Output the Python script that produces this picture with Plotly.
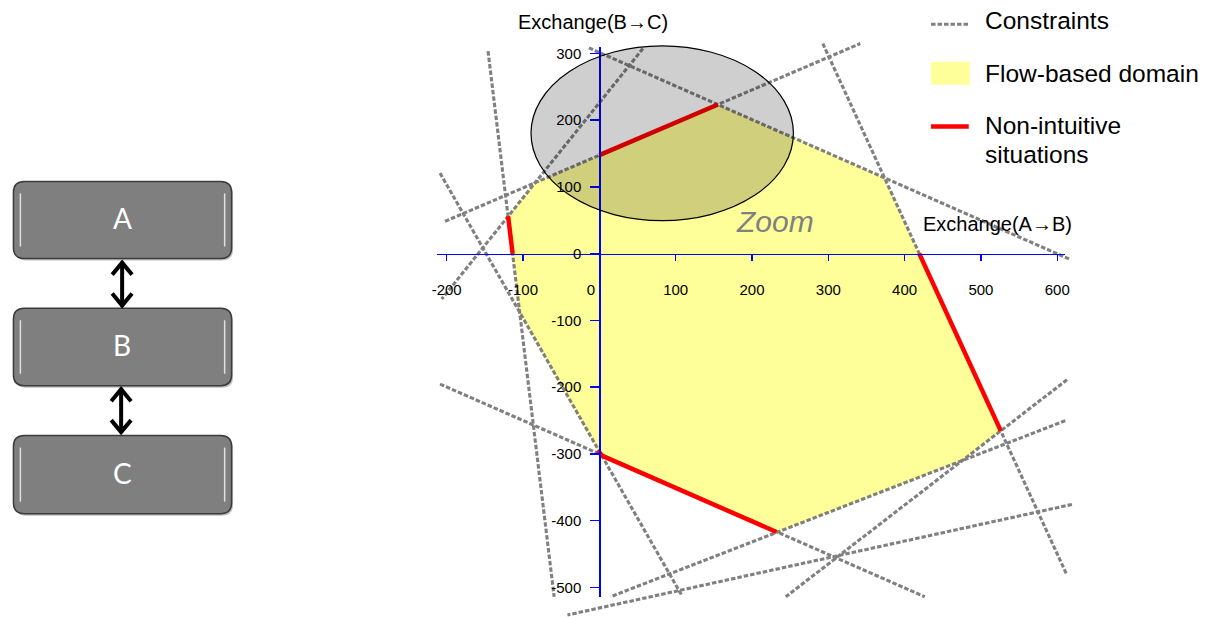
import plotly.graph_objects as go

# ---------------- data ----------------
x_tick_vals = [-200, -100, 0, 100, 200, 300, 400, 500, 600]
x_tick_text = ["-200", "-100", "0\u00a0\u00a0\u00a0\u00a0", "100", "200", "300", "400", "500", "600"]
y_tick_vals = [-500, -400, -300, -200, -100, 0, 100, 200, 300]
y_tick_text = ["-500", "-400", "-300", "-200", "-100", "0", "100", "200", "300"]

# constraint lines (start / end points, in exchange units)
constraint_x_start = [-145.8, -208.7, -202.2, -13.7, 57.1, 292.8, -208.7, 612.7, 610.5, 619.2]
constraint_y_start = [303.5, 120.7, 48.5, 308.4, 307.4, 314.9, -195.4, -188.9, -250.2, -375.7]
constraint_x_end = [-59.2, 107.8, 341.9, 617.0, -206.5, 612.7, 426.4, 244.3, 14.6, -41.7]
constraint_y_end = [-514.1, -511.6, 314.9, -8.7, -68.0, -481.7, -514.1, -514.1, -514.1, -541.4]

# flow-based domain polygon
domain_x = [-119.5, -84.0, 0, 155.4, 373.4, 419.2, 526.0, 475.8, 233.4, 1.0, -104.3]
domain_y = [56.0, 106.3, 147.6, 223.6, 113.6, 0, -265.6, -309.9, -417.2, -301.0, -88.6]

# non-intuitive situations (red segments)
red_x = [[-119.5, -113.6], [0, 155.4], [419.2, 526.0], [-2.0, 4.0, 232.0]]
red_y = [[56.0, 0], [147.6, 223.6], [0, -265.6], [-295.0, -303.0, -417.0]]

# zoom ellipse (centre and radii)
zoom_cx, zoom_cy = 82.4, 180.4
zoom_rx, zoom_ry = 171.9, 131.0

zone_labels = ["A", "B", "C"]
legend_labels = ["Constraints", "Flow-based domain", "Non-intuitive", "situations"]
x_title = "Exchange(A\u2192B)"
y_title = "Exchange(B\u2192C)"

# ---------------- layout helpers ----------------
FIG_W, FIG_H = 1205, 617
ORIGIN_PX = (598.8, 252.5)
PX_PER_X = 0.769
PX_PER_Y = 0.6695
FONT = "Liberation Sans, Arial, sans-serif"
DASH = "4.5px,2px"
DASH_W = 3.1


def x_at(px):
    return (px - ORIGIN_PX[0]) / PX_PER_X


def y_at(py):
    return (ORIGIN_PX[1] - py) / PX_PER_Y


def PX(px):
    return px / FIG_W


def PY(py):
    return 1 - py / FIG_H


fig = go.Figure()

# yellow domain
fig.add_trace(go.Scatter(
    x=domain_x + [domain_x[0]], y=domain_y + [domain_y[0]],
    mode="lines", fill="toself", fillcolor="#FFFF99",
    line=dict(width=0, color="#FFFF99"), hoverinfo="skip", showlegend=False))

# constraints
cx, cy = [], []
for a, b, c, d in zip(constraint_x_start, constraint_y_start, constraint_x_end, constraint_y_end):
    cx += [a, c, None]
    cy += [b, d, None]
fig.add_trace(go.Scatter(
    x=cx, y=cy, mode="lines",
    line=dict(color="#808080", width=DASH_W, dash=DASH),
    hoverinfo="skip", showlegend=False))

# red segments
rx, ry = [], []
for xs, ys in zip(red_x, red_y):
    rx += xs + [None]
    ry += ys + [None]
fig.add_trace(go.Scatter(
    x=rx, y=ry, mode="lines",
    line=dict(color="#FF0000", width=4.5),
    hoverinfo="skip", showlegend=False))

# dummy trace for the visible axis subplot
fig.add_trace(go.Scatter(
    x=[0], y=[0], xaxis="x2", yaxis="y2", mode="markers",
    marker=dict(opacity=0), hoverinfo="skip", showlegend=False))

axis_common = dict(showgrid=False, zeroline=False, showline=True, linecolor="#0000FF",
                   linewidth=1.5, ticks="outside", tickcolor="#0000FF", tickwidth=1.5,
                   tickmode="array", tickfont=dict(family=FONT, size=15, color="black"),
                   fixedrange=True)

fig.update_layout(
    width=FIG_W, height=FIG_H,
    margin=dict(l=0, r=0, t=0, b=0),
    paper_bgcolor="white", plot_bgcolor="rgba(0,0,0,0)",
    showlegend=False,
    xaxis=dict(domain=[0, 1], range=[x_at(0), x_at(FIG_W)], visible=False, fixedrange=True),
    yaxis=dict(domain=[0, 1], range=[y_at(FIG_H), y_at(0)], visible=False, fixedrange=True),
    xaxis2=dict(domain=[PX(435), PX(1068.3)], range=[x_at(435), x_at(1068.3)],
                anchor="free", position=PY(ORIGIN_PX[1]), side="bottom",
                tickvals=x_tick_vals, ticktext=x_tick_text, ticklen=6,
                ticklabelstandoff=16, **axis_common),
    yaxis2=dict(domain=[PY(596.7), PY(45)], range=[y_at(596.7), y_at(45)],
                anchor="free", position=PX(ORIGIN_PX[0]), side="left",
                tickvals=y_tick_vals, ticktext=y_tick_text, ticklen=9,
                ticklabelstandoff=6, **axis_common),
)

shapes = []
# zoom ellipse
shapes.append(dict(type="circle", xref="x", yref="y",
                   x0=zoom_cx - zoom_rx, x1=zoom_cx + zoom_rx,
                   y0=zoom_cy - zoom_ry, y1=zoom_cy + zoom_ry,
                   fillcolor="rgba(0,0,0,0.19)", line=dict(color="black", width=1.2),
                   layer="above"))

# legend samples
shapes.append(dict(type="line", xref="paper", yref="paper",
                   x0=PX(933), x1=PX(972), y0=PY(22.3), y1=PY(22.3),
                   line=dict(color="#808080", width=DASH_W, dash=DASH)))
shapes.append(dict(type="rect", xref="paper", yref="paper",
                   x0=PX(933), x1=PX(972), y0=PY(83), y1=PY(60),
                   fillcolor="#FFFF99", line=dict(width=0)))
shapes.append(dict(type="line", xref="paper", yref="paper",
                   x0=PX(933), x1=PX(971), y0=PY(125), y1=PY(125),
                   line=dict(color="#FF0000", width=4.5)))


def rrect(x0, y0, x1, y1, r):
    return (f"M {PX(x0 + r)},{PY(y0)} L {PX(x1 - r)},{PY(y0)} "
            f"Q {PX(x1)},{PY(y0)} {PX(x1)},{PY(y0 + r)} L {PX(x1)},{PY(y1 - r)} "
            f"Q {PX(x1)},{PY(y1)} {PX(x1 - r)},{PY(y1)} L {PX(x0 + r)},{PY(y1)} "
            f"Q {PX(x0)},{PY(y1)} {PX(x0)},{PY(y1 - r)} L {PX(x0)},{PY(y0 + r)} "
            f"Q {PX(x0)},{PY(y0)} {PX(x0 + r)},{PY(y0)} Z")


box_tops = [180, 307.3, 435]
box_bottoms = [257.3, 385, 513.3]
box_left, box_right = 8.5, 228.3
annotations = []
for lab, t, b in zip(zone_labels, box_tops, box_bottoms):
    shapes.append(dict(type="path", xref="paper", yref="paper",
                       path=rrect(box_left + 1.5, t + 2, box_right + 1.5, b + 2, 11),
                       fillcolor="rgba(0,0,0,0.25)", line=dict(width=0)))
    shapes.append(dict(type="path", xref="paper", yref="paper",
                       path=rrect(box_left, t, box_right, b, 11),
                       fillcolor="#7F7F7F", line=dict(color="#3C3C3C", width=1.5)))
    for hx in (box_left + 7, box_right - 7):
        shapes.append(dict(type="line", xref="paper", yref="paper",
                           x0=PX(hx), x1=PX(hx), y0=PY(t + 12), y1=PY(b - 12),
                           line=dict(color="rgba(255,255,255,0.75)", width=1.5)))
    annotations.append(dict(text=lab, xref="paper", yref="paper",
                            x=PX(118), y=PY((t + b) / 2 - 2), xanchor="center", yanchor="middle",
                            showarrow=False,
                            font=dict(family="Lato, Open Sans, sans-serif", size=28, color="white")))

# double arrows between boxes
for top, bot, ax in [(258.5, 307.5, 118), (385.5, 434.5, 117)]:
    shapes.append(dict(type="path", xref="paper", yref="paper",
                       path=f"M {PX(ax)},{PY(top + 2)} L {PX(ax)},{PY(bot - 2)}",
                       line=dict(color="black", width=4)))
    shapes.append(dict(type="path", xref="paper", yref="paper",
                       path=(f"M {PX(ax - 10)},{PY(top + 15)} L {PX(ax)},{PY(top + 3)} "
                             f"L {PX(ax + 10)},{PY(top + 15)}"),
                       line=dict(color="black", width=4)))
    shapes.append(dict(type="path", xref="paper", yref="paper",
                       path=(f"M {PX(ax - 10)},{PY(bot - 15)} L {PX(ax)},{PY(bot - 3)} "
                             f"L {PX(ax + 10)},{PY(bot - 15)}"),
                       line=dict(color="black", width=4)))

# axis titles
annotations.append(dict(text=y_title, xref="paper", yref="paper", x=PX(592), y=PY(20),
                        xanchor="center", yanchor="middle", showarrow=False,
                        font=dict(family=FONT, size=20, color="black")))
annotations.append(dict(text=x_title, xref="paper", yref="paper", x=PX(1000), y=PY(223),
                        xanchor="center", yanchor="middle", showarrow=False,
                        font=dict(family=FONT, size=20, color="black")))
# zoom label
annotations.append(dict(text="<i>Zoom</i>", xref="paper", yref="paper", x=PX(776), y=PY(220),
                        xanchor="center", yanchor="middle", showarrow=False,
                        font=dict(family=FONT, size=30, color="#808080")))
# legend texts
for lab, py in zip(legend_labels, [19, 71.7, 124, 153]):
    annotations.append(dict(text=lab, xref="paper", yref="paper", x=PX(985), y=PY(py),
                            xanchor="left", yanchor="middle", showarrow=False,
                            font=dict(family=FONT, size=24.5, color="black")))

fig.update_layout(shapes=shapes, annotations=annotations)
fig.write_html("out.html", config={"displayModeBar": False, "staticPlot": True},
               post_script="document.body.style.margin='0';document.body.style.overflow='hidden';")
